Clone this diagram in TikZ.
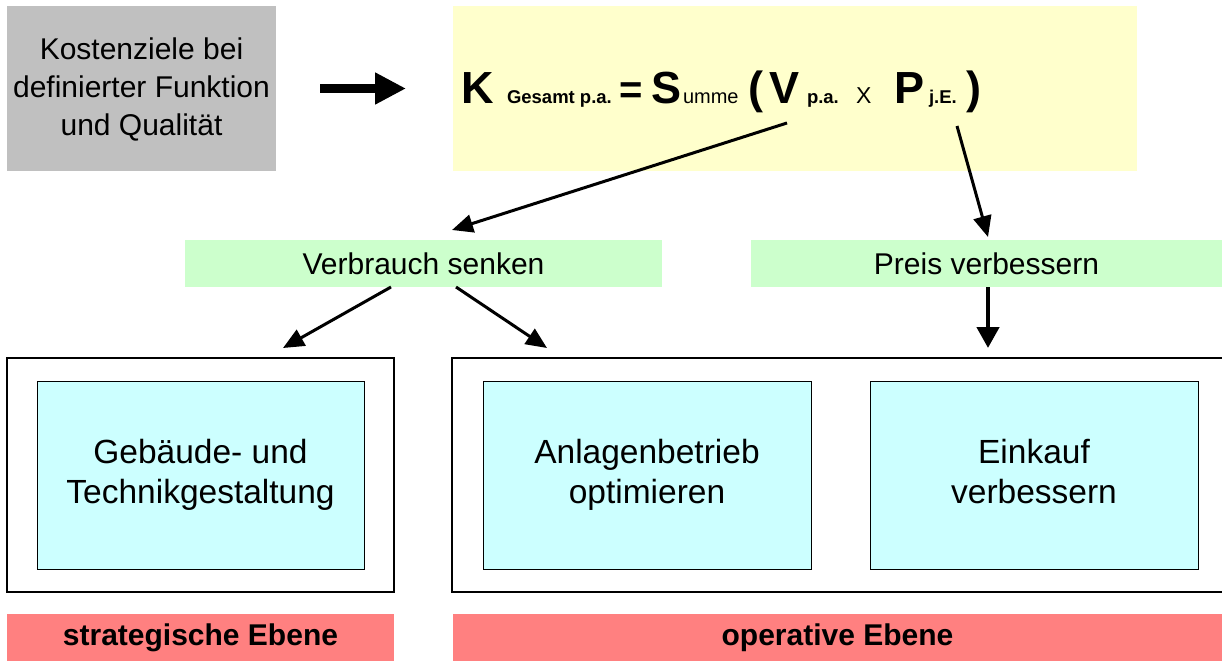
\documentclass[tikz,border=0pt]{standalone}
\usepackage{fontspec}
\setmainfont{Liberation Sans}
\usetikzlibrary{arrows.meta}
\definecolor{cgray}{HTML}{C0C0C0}
\definecolor{cyellow}{HTML}{FFFFCC}
\definecolor{cgreen}{HTML}{CCFFCC}
\definecolor{ccyan}{HTML}{CCFFFF}
\definecolor{cred}{HTML}{FF8080}
\begin{document}
\begin{tikzpicture}[x=1pt,y=-1pt,
  plainbox/.style={rectangle, inner sep=0pt, outer sep=0pt, anchor=north west},
  graybox/.style={plainbox, fill=cgray},
  yellowbox/.style={plainbox, fill=cyellow},
  greenbox/.style={plainbox, fill=cgreen, font=\fontsize{30}{36}\selectfont},
  cyanbox/.style={plainbox, fill=ccyan, draw=black, line width=1pt, align=center, font=\fontsize{33.5}{40}\selectfont},
  redbox/.style={plainbox, fill=cred, font=\fontsize{30}{34}\selectfont\bfseries},
  outerbox/.style={plainbox, draw=black, line width=2.5pt},
  outerline/.style={draw=black, line width=2.5pt},
  fbig/.style={inner sep=0pt, outer sep=0pt, anchor=base west, font=\fontsize{45}{45}\selectfont\bfseries},
  fsub/.style={inner sep=0pt, outer sep=0pt, anchor=base west, font=\fontsize{18.5}{18.5}\selectfont\bfseries},
  freg/.style={inner sep=0pt, outer sep=0pt, anchor=base west, font=\fontsize{20}{20}\selectfont},
  conn/.style={line width=3pt, -{Triangle[length=21pt,width=18pt]}},
  bigconn/.style={line width=9pt, -{Triangle[length=31pt,width=30pt]}},
  downconn/.style={line width=4.5pt, -{Triangle[length=21pt,width=22pt]}}
]
\useasboundingbox (0,0) rectangle (1222,661);
\fill[white] (0,0) rectangle (1222,661);

% top row
\node[graybox, minimum width=269pt, minimum height=165pt] (goal) at (7,6) {};
\node[inner sep=0pt, align=center, font=\fontsize{30}{38}\selectfont] (goaltxt) at (141.5,89)
  {Kostenziele bei\\definierter Funktion\\und Qualität};
\node[yellowbox, minimum width=684pt, minimum height=165pt] (formbox) at (453,6) {};

% formula
\node[fbig] (fK) at (461,103) {K};
\node[fsub] (fGes) at (507,103) {Gesamt p.a.};
\node[inner sep=0pt, outer sep=0pt, anchor=base west, font=\fontsize{40}{40}\selectfont\bfseries] (fEq) at (619,103) {=};
\node[fbig] (fS) at (651,103) {S};
\node[freg] (fumme) at (683,103) {umme};
\node[fbig] (fLp) at (748,103) {(};
\node[fbig] (fV) at (769,103) {V};
\node[fsub] (fVs) at (807,103) {p.a.};
\node[inner sep=0pt, outer sep=0pt, anchor=base west, font=\fontsize{23}{23}\selectfont] (fX) at (856,103) {X};
\node[fbig] (fP) at (894,103) {P};
\node[fsub] (fPs) at (929,103) {j.E.};
\node[fbig] (fRp) at (966,103) {)};

% middle row
\node[greenbox, minimum width=477pt, minimum height=47pt] (verb) at (185,240) {Verbrauch senken};
\node[greenbox, minimum width=471pt, minimum height=47pt] (preis) at (751,240) {Preis verbessern};

% frames
\node[outerbox, minimum width=387pt, minimum height=234pt] (strat) at (7,358) {};
\draw[outerline] (1224,358) -- (452,358) -- (452,592) -- (1224,592);

\node[cyanbox, minimum width=327pt, minimum height=188pt] (gest) at (37,381) {Gebäude- und\\Technikgestaltung};
\node[cyanbox, minimum width=328pt, minimum height=188pt] (anl) at (483,381) {Anlagenbetrieb\\optimieren};
\node[cyanbox, minimum width=328pt, minimum height=188pt] (eink) at (870,381) {Einkauf\\verbessern\vphantom{g}};

% bottom labels
\node[redbox, minimum width=387pt, minimum height=47pt] (strl) at (7,614) {strategische Ebene};
\node[redbox, minimum width=769pt, minimum height=47pt] (opl) at (453,614) {operative Ebene};

% connectors
\coordinate (vtail) at (787,123);
\coordinate (vhead) at (452,230);
\coordinate (ptail) at (957,126);
\coordinate (phead) at (988,237);
\coordinate (pdown) at (988,348);
\coordinate (vlhead) at (283,348);
\coordinate (vrhead) at (547,348);

\draw[bigconn] ([xshift=44pt]goal.east) -- ([xshift=-47pt]formbox.west);
\draw[conn] (vtail) -- (vhead);
\draw[conn] (ptail) -- (phead);
\draw[downconn] (preis.south -| pdown) -- (pdown);
\draw[conn] ([xshift=-32.5pt]verb.south) -- (vlhead);
\draw[conn] ([xshift=32.5pt]verb.south) -- (vrhead);
\end{tikzpicture}
\end{document}
